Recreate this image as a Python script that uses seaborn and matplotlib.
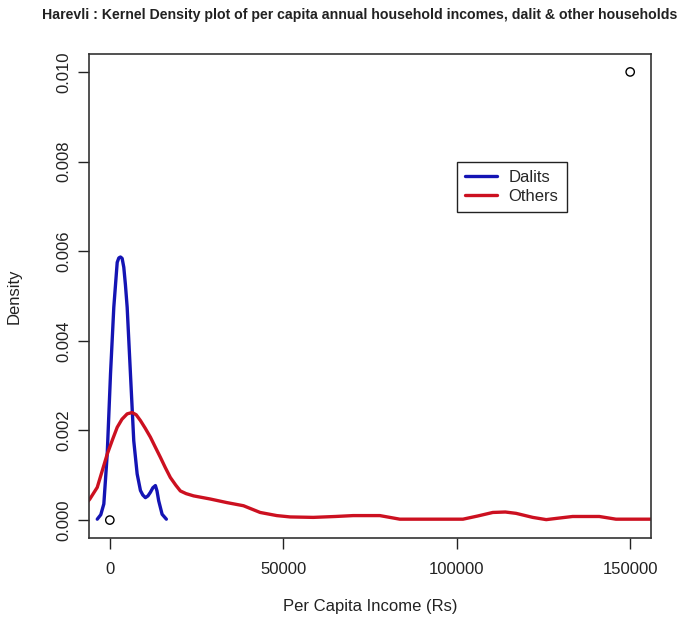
import numpy as np
import pandas as pd
import matplotlib
matplotlib.use("Agg")
import matplotlib.pyplot as plt
import seaborn as sns

# Kernel density estimates of per capita annual household income (Rs)
dalit_income = [-3620, -2600, -1725, -750, 200, 1150, 2130, 2600, 3080, 3550,
                4030, 4500, 5000, 5950, 6900, 7880, 8830, 9500, 10260, 11000,
                11700, 12400, 13140, 13600, 14090, 15070, 16300]
dalit_density = [0.00002, 0.00012, 0.00036, 0.00147, 0.00326, 0.00475, 0.00575,
                 0.00585, 0.00587, 0.00584, 0.00564, 0.00525, 0.00475, 0.00326,
                 0.00177, 0.00103, 0.00066, 0.00056, 0.00050, 0.00054, 0.00062,
                 0.00072, 0.00077, 0.00065, 0.00043, 0.00013, 0.00002]

other_income = [-7000, -5750, -3620, -750, 800, 2130, 3500, 5000, 6440, 7600,
                8830, 10200, 11700, 13100, 14580, 16000, 17450, 19000, 20330,
                22000, 24150, 28950, 33750, 38530, 43330, 48130, 52000, 58650,
                65000, 70150, 77830, 83580, 92000, 101800, 106000, 110400,
                114000, 117100, 121900, 125800, 129000, 133400, 141100, 145900,
                153500, 158000]
other_density = [0.00035, 0.00047, 0.00073, 0.00147, 0.00180, 0.00207, 0.00225,
                 0.00237, 0.00240, 0.00235, 0.00222, 0.00205, 0.00185, 0.00163,
                 0.00140, 0.00117, 0.00095, 0.00078, 0.00065, 0.00059, 0.00054,
                 0.00047, 0.00039, 0.00032, 0.00017, 0.00010, 0.00007, 0.00006,
                 0.00008, 0.00010, 0.00010, 0.00002, 0.00002, 0.00002, 0.00009,
                 0.00017, 0.00018, 0.00015, 0.00006, 0.00001, 0.00004, 0.00008,
                 0.00008, 0.00002, 0.00002, 0.00002]

# Two points that fix the plotting range
frame_x = [0, 150000]
frame_y = [0.0, 0.010]

group_names = ["Dalits", "Others"]
group_colors = ["#1414b4", "#cc1020"]

x_ticks = [0, 50000, 100000, 150000]
y_ticks = [0.000, 0.002, 0.004, 0.006, 0.008, 0.010]

sns.set_theme(style="ticks")
plt.rcParams["font.family"] = ["Liberation Sans", "DejaVu Sans"]

dalits = pd.DataFrame({"income": dalit_income, "density": dalit_density,
                       "group": group_names[0]})
others = pd.DataFrame({"income": other_income, "density": other_density,
                       "group": group_names[1]})
curves = pd.concat([dalits, others], ignore_index=True)
frame = pd.DataFrame({"income": frame_x, "density": frame_y})

fig = plt.figure(figsize=(6.84, 6.25), dpi=100)
fig.patch.set_facecolor("white")
ax = fig.add_axes([89 / 684, 1 - 538 / 625, 562 / 684, 484 / 625])
ax.set_facecolor("white")

sns.scatterplot(data=frame, x="income", y="density", ax=ax, s=36,
                facecolor="none", edgecolor="black", linewidth=1.0,
                legend=False, zorder=3)
sns.lineplot(data=curves, x="income", y="density", hue="group",
             hue_order=group_names, palette=group_colors, linewidth=2.4,
             sort=False, estimator=None, ax=ax)
for line in ax.get_lines():
    line.set_solid_joinstyle("round")
    line.set_solid_capstyle("round")

xr = frame_x[1] - frame_x[0]
yr = frame_y[1] - frame_y[0]
ax.set_xlim(frame_x[0] - 0.04 * xr, frame_x[1] + 0.04 * xr)
ax.set_ylim(frame_y[0] - 0.04 * yr, frame_y[1] + 0.04 * yr)

ax.set_xticks(x_ticks)
ax.set_xticklabels([f"{v:d}" for v in x_ticks])
ax.set_yticks(y_ticks)
ax.set_yticklabels([f"{v:.3f}" for v in y_ticks])
ax.tick_params(axis="both", which="major", bottom=True, left=True,
               top=False, right=False, direction="out", length=8, width=1.0,
               color="#222222", labelsize=12, labelcolor="#222222")
ax.tick_params(axis="x", pad=9)
ax.tick_params(axis="y", pad=5)
plt.setp(ax.get_yticklabels(), rotation=90, va="center", ha="right")

for sp in ax.spines.values():
    sp.set_visible(True)
    sp.set_color("#333333")
    sp.set_linewidth(1.2)

ax.set_xlabel("Per Capita Income (Rs)", fontsize=12, color="#222222")
ax.set_ylabel("Density", fontsize=12, color="#222222")
ax.xaxis.set_label_coords(370 / 684, 1 - 599 / 625, transform=fig.transFigure)
ax.yaxis.set_label_coords(22 / 684, 1 - 296 / 625, transform=fig.transFigure)

fig.text(360 / 684, 1 - 15 / 625,
         "Harevli : Kernel Density plot of per capita annual household incomes, dalit & other households",
         ha="center", va="center", fontsize=10.2, fontweight="bold", color="#222222")

leg = ax.legend(loc="upper left", bbox_to_anchor=(457 / 684, 1 - 162 / 625),
                bbox_transform=fig.transFigure, borderaxespad=0,
                fontsize=12, frameon=True, fancybox=False, framealpha=1,
                edgecolor="#222222", borderpad=0.5, labelspacing=0.2,
                handlelength=1.9, handletextpad=0.7, title=None)
leg.get_frame().set_linewidth(1.0)
for line in leg.get_lines():
    line.set_linewidth(2.4)

fig.savefig("out.png", dpi=100, facecolor="white")
